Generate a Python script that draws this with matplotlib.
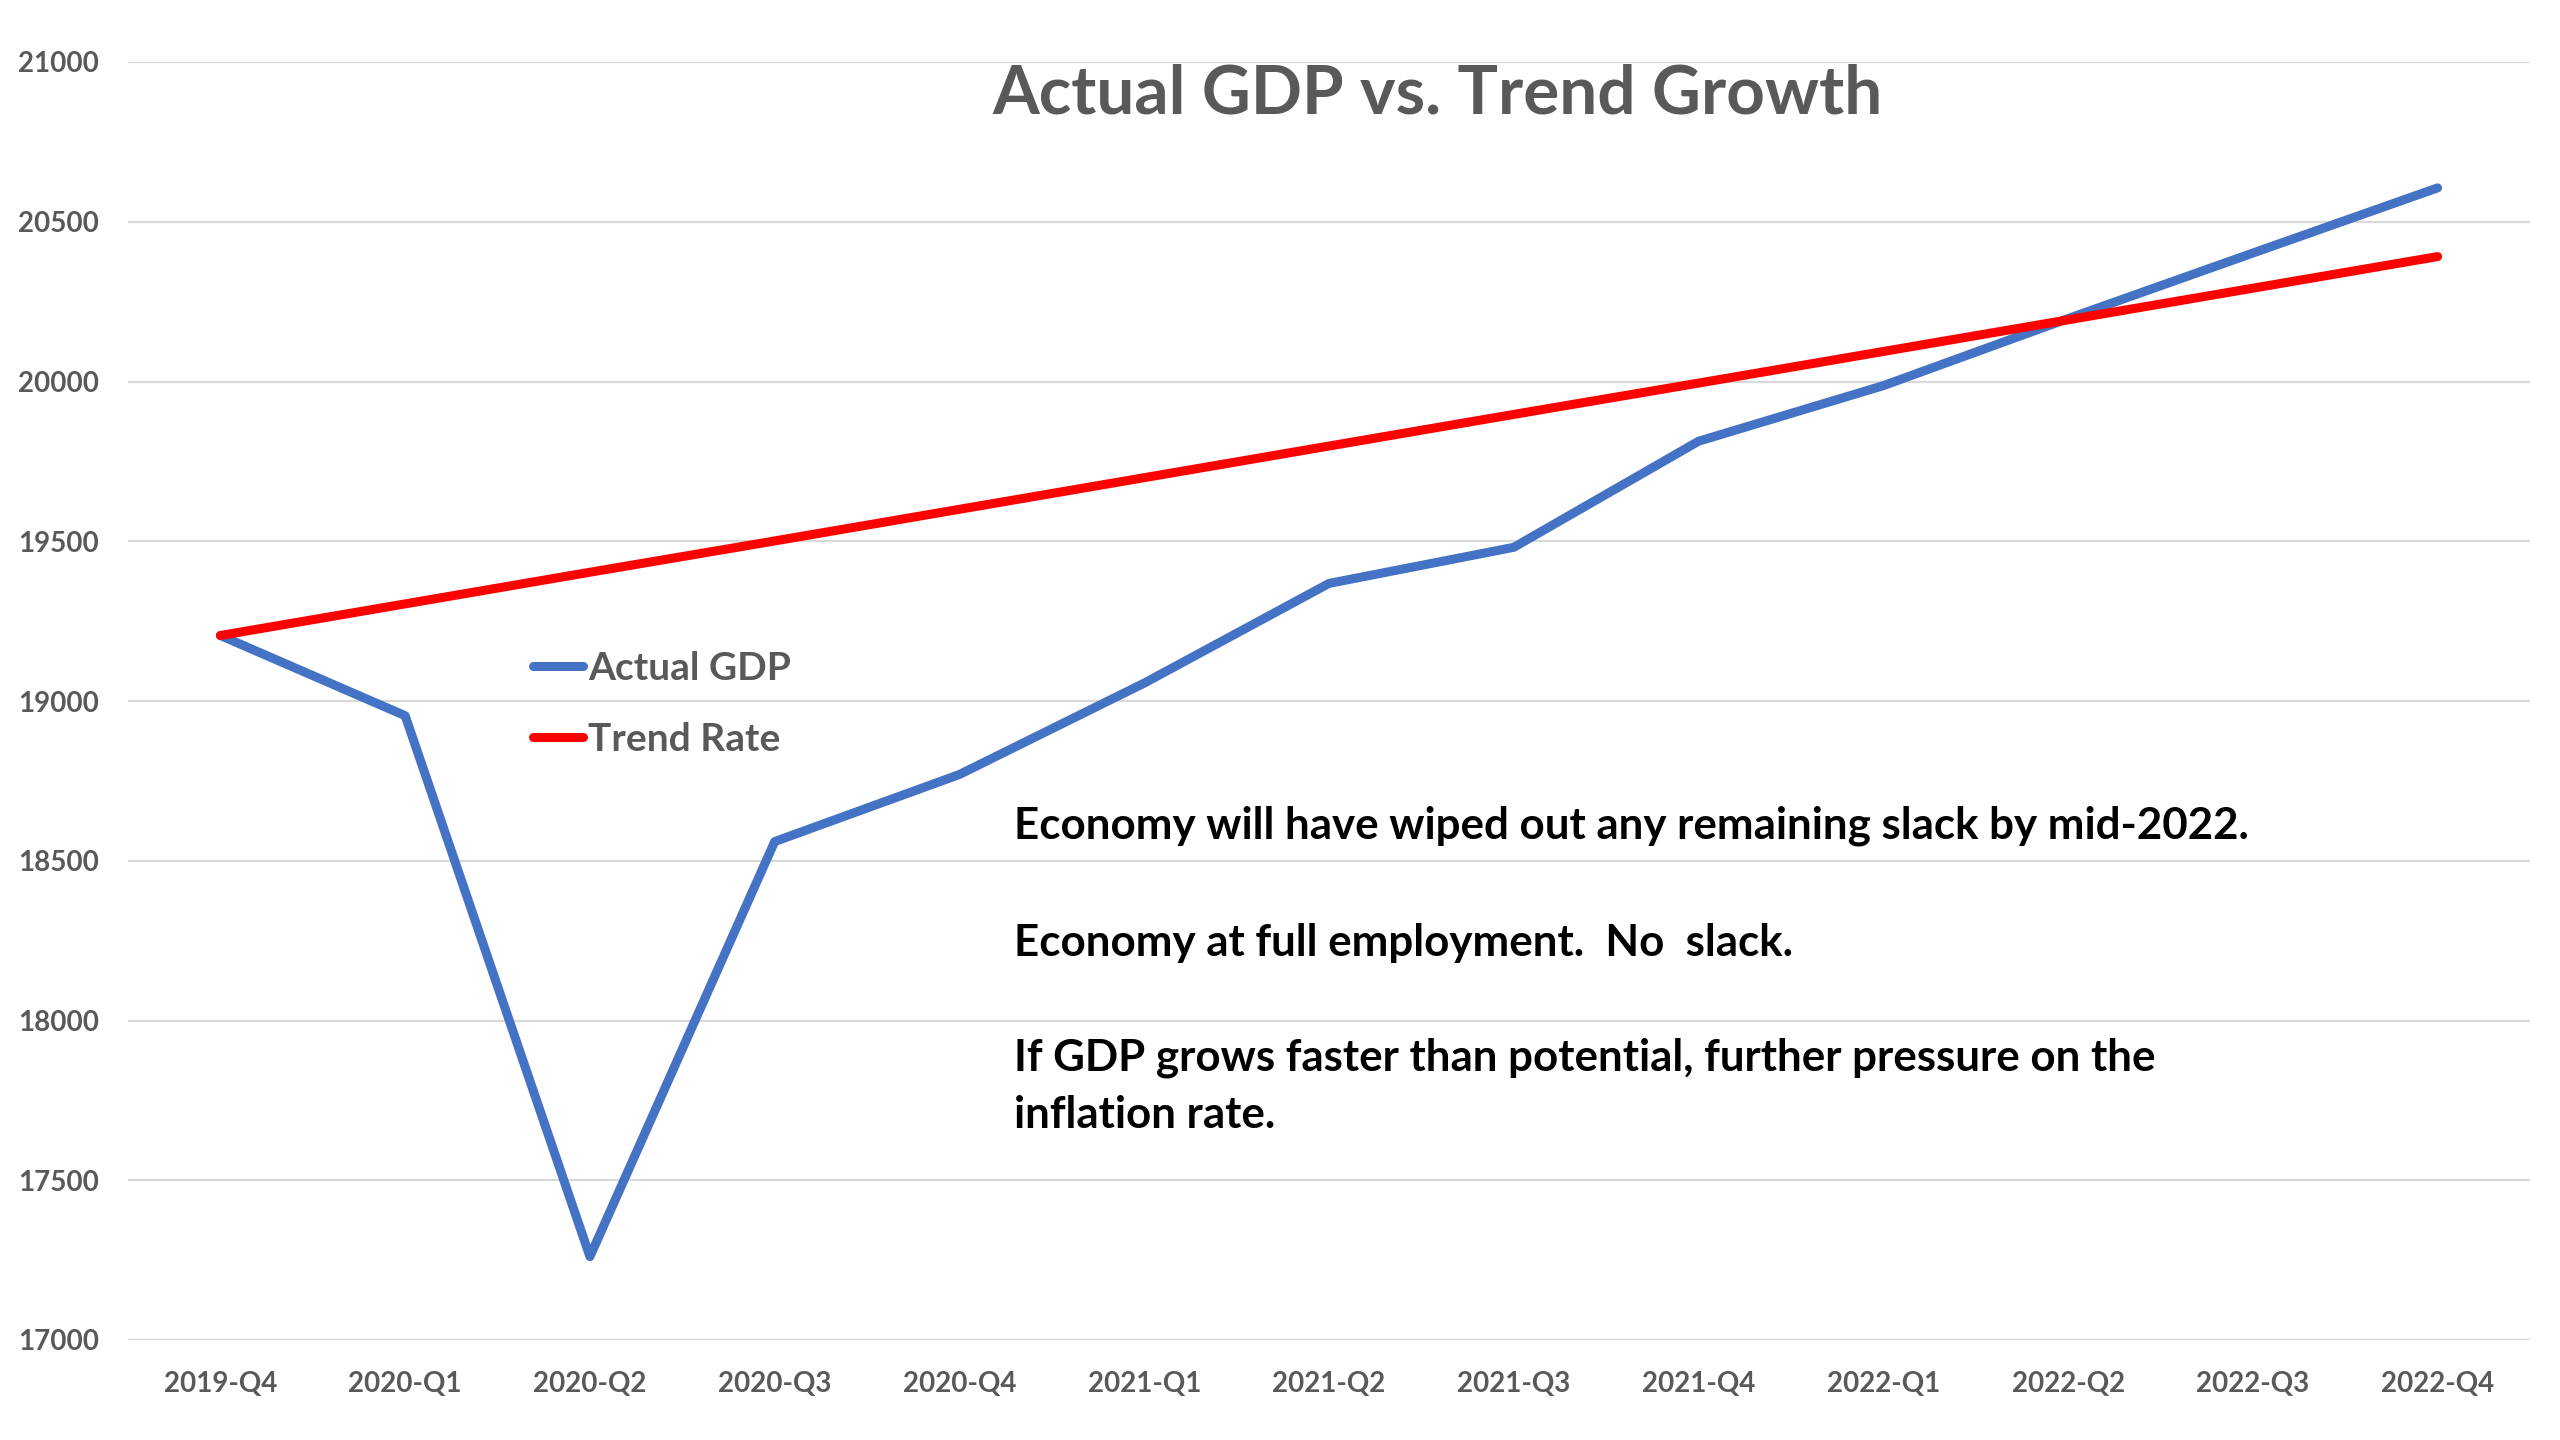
import matplotlib
matplotlib.use("Agg")
import matplotlib.pyplot as plt
from matplotlib.lines import Line2D

# Quarterly data (billions)
quarters = ["2019-Q4", "2020-Q1", "2020-Q2", "2020-Q3", "2020-Q4", "2021-Q1",
            "2021-Q2", "2021-Q3", "2021-Q4", "2022-Q1", "2022-Q2", "2022-Q3", "2022-Q4"]
actual_gdp = [19205, 18954, 17261, 18560, 18770, 19056, 19368, 19481,
              19813, 19987, 20197, 20402, 20606]
trend_rate = [19205, 19304, 19403, 19501, 19600, 19699, 19798, 19897,
              19995, 20094, 20193, 20292, 20391]
y_ticks = [17000, 17500, 18000, 18500, 19000, 19500, 20000, 20500, 21000]
series_names = ["Actual GDP", "Trend Rate"]

title = "Actual GDP vs. Trend Growth"
note_lines = [
    "Economy will have wiped out any remaining slack by mid-2022.",
    "Economy at full employment.  No  slack.",
    "If GDP grows faster than potential, further pressure on the",
    "inflation rate.",
]

FONT = "Lato"
GREY = "#595959"
BLUE = "#4472C4"
RED = "#FF0000"
LW = 6.5

W, H = 2560, 1440
fig = plt.figure(figsize=(W / 100, H / 100), dpi=100)
fig.patch.set_facecolor("white")


def fx(px):
    return px / W


def fy(py):
    return 1 - py / H


left, right, top, bottom = 128, 2530, 62, 1340
ax = fig.add_axes([fx(left), fy(bottom), (right - left) / W, (bottom - top) / H])

x = list(range(len(quarters)))
ax.plot(x, actual_gdp, color=BLUE, lw=LW, solid_capstyle="round",
        solid_joinstyle="round", zorder=3)
ax.plot(x, trend_rate, color=RED, lw=LW, solid_capstyle="round",
        solid_joinstyle="round", zorder=4)

ax.set_xlim(-0.5, len(quarters) - 0.5)
ax.set_ylim(y_ticks[0], y_ticks[-1])
ax.set_yticks(y_ticks)
ax.set_xticks(x)
ax.set_xticklabels(quarters)
ax.grid(axis="y", color="#D9D9D9", lw=1.6, zorder=0)
ax.set_axisbelow(True)
for s in ax.spines.values():
    s.set_visible(False)
ax.tick_params(axis="both", length=0, labelcolor=GREY)
ax.tick_params(axis="y", pad=21)
ax.tick_params(axis="x", pad=22)
for lab in ax.get_xticklabels() + ax.get_yticklabels():
    lab.set_fontfamily(FONT)
    lab.set_fontweight("bold")
    lab.set_fontsize(20)

# Title inside the plot area
fig.text(fx(1437), fy(94), title, ha="center", va="center",
         fontfamily=FONT, fontweight="bold", fontsize=48.5, color=GREY)

# Legend entries
for name, color, row_y in zip(series_names, [BLUE, RED], [666, 737]):
    fig.add_artist(Line2D([fx(533), fx(583)], [fy(row_y), fy(row_y)],
                          color=color, lw=LW, solid_capstyle="round"))
    fig.text(fx(588), fy(row_y), name, ha="left", va="center_baseline",
             fontfamily=FONT, fontweight="bold", fontsize=28, color=GREY)

# Commentary
for line, yb in zip(note_lines, [839, 956, 1071, 1128]):
    fig.text(fx(1014), fy(yb), line, ha="left", va="baseline",
             fontfamily=FONT, fontweight="bold", fontsize=31.6, color="black")

fig.savefig("out.png", dpi=100, facecolor="white")
